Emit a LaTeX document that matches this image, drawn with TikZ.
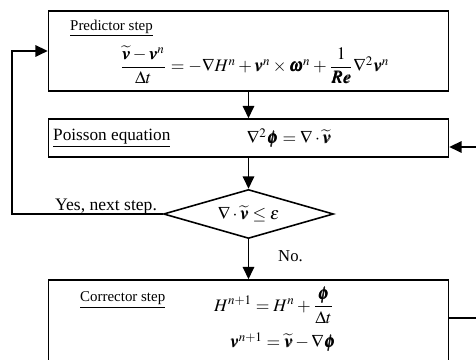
\documentclass[tikz,border=0pt]{standalone}
\usepackage{amsmath}
\usepackage{mathptmx}
\usepackage{bm}
\usepackage{fontspec}
\setmainfont{Liberation Serif}
\usetikzlibrary{positioning, shapes.geometric, arrows.meta}

\begin{document}
\begin{tikzpicture}[
  stepbox/.style={draw, line width=0.9pt, minimum width=8cm, inner sep=0pt},
  flow/.style={line width=1.1pt, -{Triangle[length=7pt,width=6.5pt]}},
  steplabel/.style={font=\fontsize{8.5}{10}\selectfont, anchor=west},
  eqn/.style={font=\fontsize{10}{12}\selectfont, inner sep=0pt}
]
\useasboundingbox (0,0) rectangle (9.52,7.2);
\clip (0,0) rectangle (9.52,7.2);

% boxes of the scheme
\node[stepbox, minimum height=1.6cm] (pred) at (4.97,6.18) {};
\node[stepbox, minimum height=0.76cm] (pois) at (4.97,4.44) {};
\node[draw, diamond, line width=0.9pt, aspect=3.47, minimum width=3.4cm, minimum height=0.98cm, inner sep=0pt, eqn] (check) at (4.97,2.92) {$\nabla\cdot\widetilde{\bm v}\le\varepsilon$};
\node[stepbox, minimum height=2.2cm] (corr) at (4.97,0.5) {};

% texts
\node[steplabel] (predname) at (1.28,6.64) {\underline{Predictor step}};
\node[eqn] (predeq) at (5.09,5.90) {$\dfrac{\widetilde{\bm v}-\bm v^n}{\Delta t}=-\nabla H^n+\bm v^n\times\bm\omega^n+\dfrac{1}{\bm{Re}}\nabla^2\bm v^n$};
\node[steplabel, font=\fontsize{9.8}{11}\selectfont] (poisname) at (0.94,4.44) {\underline{Poisson equation}};
\node[eqn] (poiseq) at (5.78,4.44) {$\nabla^2\bm\phi=\nabla\cdot\widetilde{\bm v}$};
\node[steplabel] (corrname) at (1.48,1.20) {\underline{Corrector step}};
\node[eqn] (correqH) at (5.48,1.10) {$H^{n+1}=H^n+\dfrac{\bm\phi}{\Delta t}$};
\node[eqn] (correqv) at (5.66,0.36) {$\bm v^{n+1}=\widetilde{\bm v}-\nabla\bm\phi$};
\node[steplabel, font=\fontsize{10}{12}\selectfont, anchor=base west] (yes) at (0.98,2.98) {Yes, next step.};
\node[steplabel, font=\fontsize{9.5}{11}\selectfont] (no) at (5.44,2.08) {No.};

% connectors
\coordinate (loopout) at (9.7,0.84);
\coordinate (loopin) at (9.7,4.26);
\coordinate (back) at (0.24,2.92);
\draw[flow] (pred) -- (pois);
\draw[flow] (pois) -- (check);
\draw[flow] (check) -- (corr);
\draw[flow] (corr.east |- loopout) -- (loopout) -- (loopin) -- (pois.east |- loopin);
\draw[flow] (check.west) -- (back) |- (pred.west);
\end{tikzpicture}
\end{document}
